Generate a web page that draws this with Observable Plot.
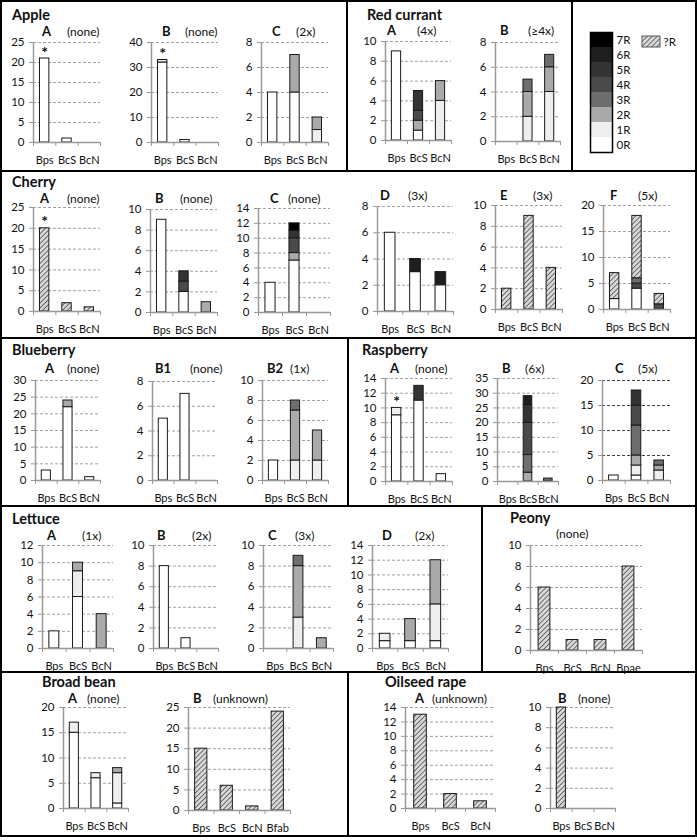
<!DOCTYPE html>
<html><head><meta charset="utf-8">
<script src="https://cdn.jsdelivr.net/npm/d3@7"></script>
<script src="https://cdn.jsdelivr.net/npm/@observablehq/plot@0.6"></script>
<style>
body{margin:0;background:#fff}
#root{position:relative;width:697px;height:840px;font-family:Lato,"Liberation Sans",sans-serif;overflow:hidden}
</style>
</head><body><div id="root"></div>
<script>
// ---------- data ----------
const classes = ["0R","1R","2R","3R","4R","5R","6R","7R","?R"];
const classColors = ["#ffffff","#eeeeee","#aaaaaa","#6e6e6e","#4a4a4a","#333333","#1e1e1e","#000000","url(#hatch)"];
const cats3 = ["Bps","BcS","BcN"];
const catsPeony = ["Bps","BcS","BcN","Bpae"];
const catsBean = ["Bps","BcS","BcN","Bfab"];

// segments: [category, class, count], stacked bottom to top
const appleA = [["Bps","0R",21],["BcS","0R",1]];
const appleB = [["Bps","0R",32],["Bps","1R",1],["BcS","0R",1]];
const appleC = [["Bps","0R",4],["BcS","0R",4],["BcS","2R",3],["BcN","1R",1],["BcN","2R",1]];
const redA = [["Bps","0R",9],["BcS","0R",1],["BcS","2R",1],["BcS","4R",1],["BcS","5R",2],["BcN","1R",4],["BcN","2R",2]];
const redB = [["BcS","1R",2],["BcS","2R",2],["BcS","3R",1],["BcN","1R",4],["BcN","2R",2],["BcN","3R",1]];
const cherryA = [["Bps","?R",20],["BcS","?R",2],["BcN","?R",1]];
const cherryB = [["Bps","0R",9],["BcS","0R",2],["BcS","4R",1],["BcS","5R",1],["BcN","2R",1]];
const cherryC = [["Bps","0R",4],["BcS","0R",7],["BcS","2R",1],["BcS","4R",2],["BcS","5R",1],["BcS","7R",1]];
const cherryD = [["Bps","0R",6],["BcS","0R",3],["BcS","6R",1],["BcN","0R",2],["BcN","6R",1]];
const cherryE = [["Bps","?R",2],["BcS","?R",9],["BcN","?R",4]];
const cherryF = [["Bps","0R",2],["Bps","?R",5],["BcS","0R",4],["BcS","4R",1],["BcS","3R",1],["BcS","?R",12],["BcN","4R",1],["BcN","?R",2]];
const blueA = [["Bps","0R",3],["BcS","0R",22],["BcS","2R",2],["BcN","0R",1]];
const blueB1 = [["Bps","0R",5],["BcS","0R",7]];
const blueB2 = [["Bps","0R",2],["BcS","1R",2],["BcS","2R",5],["BcS","3R",1],["BcN","1R",2],["BcN","2R",3]];
const raspA = [["Bps","0R",9],["Bps","1R",1],["BcS","0R",11],["BcS","5R",2],["BcN","0R",1]];
const raspB = [["BcS","2R",3],["BcS","3R",6],["BcS","4R",11],["BcS","5R",6],["BcS","6R",3],["BcN","3R",1]];
const raspC = [["Bps","0R",1],["BcS","0R",1],["BcS","1R",2],["BcS","2R",2],["BcS","3R",6],["BcS","4R",4],["BcS","5R",3],["BcN","1R",2],["BcN","2R",1],["BcN","3R",1]];
const lettA = [["Bps","0R",2],["BcS","0R",6],["BcS","1R",3],["BcS","2R",1],["BcN","2R",4]];
const lettB = [["Bps","0R",8],["BcS","0R",1]];
const lettC = [["BcS","1R",3],["BcS","2R",5],["BcS","3R",1],["BcN","2R",1]];
const lettD = [["Bps","0R",1],["Bps","1R",1],["BcS","0R",1],["BcS","2R",3],["BcN","0R",1],["BcN","1R",5],["BcN","2R",6]];
const peony = [["Bps","?R",6],["BcS","?R",1],["BcN","?R",1],["Bpae","?R",8]];
const beanA = [["Bps","0R",15],["Bps","1R",2],["BcS","0R",6],["BcS","1R",1],["BcN","0R",1],["BcN","1R",6],["BcN","2R",1]];
const beanB = [["Bps","?R",15],["BcS","?R",6],["BcN","?R",1],["Bfab","?R",24]];
const rapeA = [["Bps","?R",13],["BcS","?R",2],["BcN","?R",1]];
const rapeB = [["Bps","?R",10]];

const groupTitles = [["Apple",12,20],["Red currant",367,20],["Cherry",12,187],["Blueberry",12,355],["Raspberry",362,355],["Lettuce",12,524],["Peony",510,523],["Broad bean",42,687],["Oilseed rape",385,687]];

// panel specs: data, categories, letter, note, y max, tick step, starred categories + layout
const panels = [
 {data:appleA, cats:cats3, letter:"A", note:"(none)", ymax:25, step:5, star:["Bps"], axis:33, right:100, top:42, bottom:142, lx:42, nx:67, ty:36},
 {data:appleB, cats:cats3, letter:"B", note:"(none)", ymax:40, step:10, star:["Bps"], axis:151, right:218, top:42, bottom:142, lx:162, nx:185, ty:36},
 {data:appleC, cats:cats3, letter:"C", note:"(2x)", ymax:8, step:2, star:[], axis:261, right:328, top:42, bottom:142, lx:272, nx:296, ty:36},
 {data:redA, cats:cats3, letter:"A", note:"(4x)", ymax:10, step:2, star:[], axis:385, right:451, top:41, bottom:140, lx:387, nx:417, ty:35},
 {data:redB, cats:cats3, letter:"B", note:"(\u22654x)", ymax:8, step:2, star:[], axis:495, right:560, top:42, bottom:141, lx:500, nx:528, ty:35},
 {data:cherryA, cats:cats3, letter:"A", note:"(none)", ymax:25, step:5, star:["Bps"], axis:33, right:100, top:207, bottom:311, lx:40, nx:67, ty:203},
 {data:cherryB, cats:cats3, letter:"B", note:"(none)", ymax:10, step:2, star:[], axis:150, right:217, top:209, bottom:312, lx:155, nx:180, ty:203},
 {data:cherryC, cats:cats3, letter:"C", note:"(none)", ymax:14, step:2, star:[], axis:258, right:330, top:208, bottom:312, lx:270, nx:288, ty:203},
 {data:cherryD, cats:cats3, letter:"D", note:"(3x)", ymax:8, step:2, star:[], axis:377, right:453, top:206, bottom:311, lx:380, nx:408, ty:200},
 {data:cherryE, cats:cats3, letter:"E", note:"(3x)", ymax:10, step:2, star:[], axis:495, right:562, top:205, bottom:309, lx:500, nx:533, ty:200},
 {data:cherryF, cats:cats3, letter:"F", note:"(5x)", ymax:20, step:5, star:[], axis:603, right:670, top:205, bottom:309, lx:610, nx:638, ty:200},
 {data:blueA, cats:cats3, letter:"A", note:"(none)", ymax:30, step:5, star:[], axis:35, right:100, top:380, bottom:480, lx:45, nx:67, ty:373},
 {data:blueB1, cats:cats3, letter:"B1", note:"(none)", ymax:8, step:2, star:[], axis:152, right:217, top:381, bottom:480, lx:155, nx:190, ty:373},
 {data:blueB2, cats:cats3, letter:"B2", note:"(1x)", ymax:10, step:2, star:[], axis:262, right:328, top:380, bottom:480, lx:267, nx:290, ty:373},
 {data:raspA, cats:cats3, letter:"A", note:"(none)", ymax:14, step:2, star:["Bps"], axis:385, right:452, top:378, bottom:481, lx:390, nx:415, ty:373},
 {data:raspB, cats:cats3, letter:"B", note:"(6x)", ymax:35, step:5, star:[], axis:497, right:558, top:378, bottom:481, lx:502, nx:525, ty:373},
 {data:raspC, cats:cats3, letter:"C", note:"(5x)", ymax:20, step:5, star:[], axis:602, right:670, top:380, bottom:480, lx:615, nx:638, ty:373, grid:"#444"},
 {data:lettA, cats:cats3, letter:"A", note:"(1x)", ymax:12, step:2, star:[], axis:42, right:113, top:545, bottom:648, lx:47, nx:82, ty:540},
 {data:lettB, cats:cats3, letter:"B", note:"(2x)", ymax:10, step:2, star:[], axis:153, right:218, top:545, bottom:648, lx:157, nx:192, ty:540},
 {data:lettC, cats:cats3, letter:"C", note:"(3x)", ymax:10, step:2, star:[], axis:263, right:333, top:545, bottom:648, lx:268, nx:295, ty:540},
 {data:lettD, cats:cats3, letter:"D", note:"(2x)", ymax:14, step:2, star:[], axis:372, right:448, top:545, bottom:648, lx:382, nx:415, ty:540},
 {data:peony, cats:catsPeony, letter:"", note:"(none)", ymax:10, step:2, star:[], axis:530, right:642, top:545, bottom:650, lx:530, nx:556, ty:538},
 {data:beanA, cats:cats3, letter:"A", note:"(none)", ymax:20, step:5, star:[], axis:63, right:128, top:707, bottom:808, lx:68, nx:87, ty:703},
 {data:beanB, cats:catsBean, letter:"B", note:"(unknown)", ymax:25, step:5, star:[], axis:188, right:290, top:707, bottom:810, lx:193, nx:213, ty:703, bw:0.48},
 {data:rapeA, cats:cats3, letter:"A", note:"(unknown)", ymax:14, step:2, star:[], axis:405, right:495, top:707, bottom:808, lx:415, nx:432, ty:703},
 {data:rapeB, cats:cats3, letter:"B", note:"(none)", ymax:10, step:2, star:[], axis:550, right:615, top:707, bottom:808, lx:558, nx:578, ty:703}
];

const boxes = [[1,1,347,171],[347,1,572,171],[572,1,696,171],[1,171,696,338],[1,338,348,506],[348,338,696,506],[1,506,482,672],[482,506,696,672],[1,672,348,836],[348,672,696,836]];

// ---------- drawing ----------
const root = document.getElementById("root");
const NS = "http://www.w3.org/2000/svg";
const FONT = "Lato, 'Liberation Sans', sans-serif";
const overlay = document.createElementNS(NS, "svg");
overlay.setAttribute("width", 697); overlay.setAttribute("height", 840);
overlay.style.position = "absolute"; overlay.style.left = "0"; overlay.style.top = "0";
overlay.innerHTML = `<defs><pattern id="hatch" patternUnits="userSpaceOnUse" width="3.5" height="3.5" patternTransform="rotate(45)"><rect width="3.5" height="3.5" fill="#d9d9d9"/><line x1="0" y1="0" x2="0" y2="3.5" stroke="#3a3a3a" stroke-width="1.4"/></pattern></defs>`;
root.appendChild(overlay);

function addText(str, x, y, size, weight, anchor) {
  const t = document.createElementNS(NS, "text");
  t.setAttribute("x", x); t.setAttribute("y", y);
  t.setAttribute("font-family", FONT); t.setAttribute("font-size", size);
  t.setAttribute("font-weight", weight || "normal");
  t.setAttribute("fill", "#111");
  if (anchor) t.setAttribute("text-anchor", anchor);
  t.textContent = str;
  overlay.appendChild(t);
}
for (const [x1,y1,x2,y2] of boxes) {
  const r = document.createElementNS(NS, "rect");
  r.setAttribute("x", x1); r.setAttribute("y", y1);
  r.setAttribute("width", x2 - x1); r.setAttribute("height", y2 - y1);
  r.setAttribute("fill", "none"); r.setAttribute("stroke", "#000"); r.setAttribute("stroke-width", 2);
  overlay.appendChild(r);
}
for (const [t,x,y] of groupTitles) addText(t, x, y, 14.5, "bold");

const colorScale = {type: "ordinal", domain: classes, range: classColors};

function place(el, left, top) {
  el.style.position = "absolute";
  el.style.left = left + "px";
  el.style.top = top + "px";
  el.style.background = "transparent";
  el.style.overflow = "visible";
  root.appendChild(el);
}

for (const p of panels) {
  if (p.letter) addText(p.letter, p.lx, p.ty, 13, "bold");
  addText(p.note, p.nx, p.ty, 12, "normal");
  const n = p.cats.length;
  const idx = new Map(p.cats.map((c, i) => [c, i]));
  const cum = new Map();
  const segs = p.data.map(([cat, cls, v]) => {
    const y1 = cum.get(cat) || 0, y2 = y1 + v;
    cum.set(cat, y2);
    return {cat, i: idx.get(cat), cls, y1, y2};
  });
  const stars = p.star.map(c => ({i: idx.get(c), total: cum.get(c)}));
  const ticks = d3.range(0, p.ymax + p.step / 2, p.step);
  const bw = p.bw || 0.42;
  const ml = 34, mr = 6, mt = 12, mb = 30;
  const chart = Plot.plot({
    width: p.right - p.axis + ml + mr,
    height: p.bottom - p.top + mt + mb,
    marginLeft: ml, marginRight: mr, marginTop: mt, marginBottom: mb,
    x: {type: "linear", domain: [0, n]},
    y: {type: "linear", domain: [0, p.ymax]},
    color: colorScale,
    style: {fontFamily: FONT, fontSize: "11.5px", color: "#111", background: "transparent", overflow: "visible"},
    marks: [
      Plot.ruleY(ticks.filter(t => t > 0), {x1: 0, x2: n, stroke: p.grid || "#a0a0a0", strokeDasharray: "3,2", strokeWidth: 1}),
      Plot.rectY(segs, {x1: d => d.i + 0.5 - bw / 2, x2: d => d.i + 0.5 + bw / 2, y1: "y1", y2: "y2", fill: "cls", stroke: "#1a1a1a", strokeWidth: 1}),
      Plot.ruleX([0], {y1: 0, y2: p.ymax, stroke: "#999", strokeWidth: 1.5}),
      Plot.ruleY([0], {x1: 0, x2: n, stroke: "#999", strokeWidth: 1.5}),
      Plot.axisY({ticks, tickSize: 4, tickPadding: 5, stroke: "#999", fill: "#111", fontSize: 11.5}),
      Plot.axisX({ticks: d3.range(0, n + 1), tickSize: 4, tickFormat: () => "", stroke: "#999"}),
      Plot.text(p.cats, {x: (d, i) => i + 0.5, y: 0, dy: 18, text: d => d, fill: "#111", fontSize: 11}),
      Plot.text(stars, {x: d => d.i + 0.5, y: "total", text: () => "*", dy: -6, fontSize: 16, fontWeight: "bold", fill: "#111"})
    ]
  });
  place(chart, p.axis - ml, p.top - mt);
}

// legend
const legendOrder = ["7R","6R","5R","4R","3R","2R","1R","0R"];
const legend = Plot.plot({
  width: 52, height: 120, marginLeft: 0, marginRight: 30, marginTop: 0, marginBottom: 0,
  x: {domain: [0, 1], axis: null},
  y: {type: "band", domain: legendOrder, padding: 0, axis: null},
  color: colorScale,
  style: {fontFamily: FONT, fontSize: "12px", color: "#111", background: "transparent", overflow: "visible"},
  marks: [
    Plot.barX(legendOrder, {x1: 0, x2: 1, y: d => d, fill: d => d}),
    Plot.frame({stroke: "#000", strokeWidth: 1.5}),
    Plot.text(legendOrder, {x: 1, y: d => d, text: d => d, dx: 4, textAnchor: "start", fill: "#111", fontSize: 11.5})
  ]
});
place(legend, 590, 32);
const legendQ = ["?R"];
const legend2 = Plot.plot({
  width: 40, height: 11, marginLeft: 0, marginRight: 22, marginTop: 0, marginBottom: 0,
  x: {domain: [0, 1], axis: null},
  y: {type: "band", domain: legendQ, padding: 0, axis: null},
  color: colorScale,
  style: {fontFamily: FONT, fontSize: "12px", color: "#111", background: "transparent", overflow: "visible"},
  marks: [
    Plot.barX(legendQ, {x1: 0, x2: 1, y: d => d, fill: d => d, stroke: "#555", strokeWidth: 1}),
    Plot.text(legendQ, {x: 1, y: d => d, text: d => d, dx: 3, textAnchor: "start", fill: "#111", fontSize: 11.5})
  ]
});
place(legend2, 642, 36);
</script>
</body></html>
